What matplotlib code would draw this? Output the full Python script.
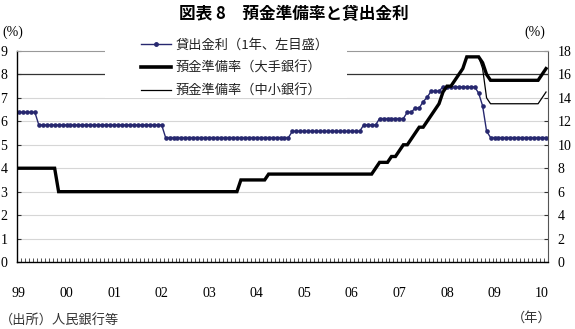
import numpy as np
import matplotlib
matplotlib.use("Agg")
import matplotlib.pyplot as plt
from matplotlib.lines import Line2D
from matplotlib.patches import Rectangle
from matplotlib.ticker import FixedLocator

# ---- data (monthly, Jan 1999 - Feb 2010) ----
lending_rate = (
    [6.39, 6.39, 6.39, 6.39, 6.39, 5.85, 5.85, 5.85, 5.85, 5.85, 5.85, 5.85] +  # 1999
    [5.85, 5.85, 5.85, 5.85, 5.85, 5.85, 5.85, 5.85, 5.85, 5.85, 5.85, 5.85] +  # 2000
    [5.85, 5.85, 5.85, 5.85, 5.85, 5.85, 5.85, 5.85, 5.85, 5.85, 5.85, 5.85] +  # 2001
    [5.85, 5.31, 5.31, 5.31, 5.31, 5.31, 5.31, 5.31, 5.31, 5.31, 5.31, 5.31] +  # 2002
    [5.31, 5.31, 5.31, 5.31, 5.31, 5.31, 5.31, 5.31, 5.31, 5.31, 5.31, 5.31] +  # 2003
    [5.31, 5.31, 5.31, 5.31, 5.31, 5.31, 5.31, 5.31, 5.31, 5.58, 5.58, 5.58] +  # 2004
    [5.58, 5.58, 5.58, 5.58, 5.58, 5.58, 5.58, 5.58, 5.58, 5.58, 5.58, 5.58] +  # 2005
    [5.58, 5.58, 5.58, 5.85, 5.85, 5.85, 5.85, 6.12, 6.12, 6.12, 6.12, 6.12] +  # 2006
    [6.12, 6.12, 6.39, 6.39, 6.57, 6.57, 6.84, 7.02, 7.29, 7.29, 7.29, 7.47] +  # 2007
    [7.47, 7.47, 7.47, 7.47, 7.47, 7.47, 7.47, 7.47, 7.20, 6.66, 5.58, 5.31] +  # 2008
    [5.31, 5.31, 5.31, 5.31, 5.31, 5.31, 5.31, 5.31, 5.31, 5.31, 5.31, 5.31] +  # 2009
    [5.31, 5.31]                                                                 # 2010
)

rrr_large = (
    [8.0, 8.0, 8.0, 8.0, 8.0, 8.0, 8.0, 8.0, 8.0, 8.0, 6.0, 6.0] +  # 1999
    [6.0, 6.0, 6.0, 6.0, 6.0, 6.0, 6.0, 6.0, 6.0, 6.0, 6.0, 6.0] +  # 2000
    [6.0, 6.0, 6.0, 6.0, 6.0, 6.0, 6.0, 6.0, 6.0, 6.0, 6.0, 6.0] +  # 2001
    [6.0, 6.0, 6.0, 6.0, 6.0, 6.0, 6.0, 6.0, 6.0, 6.0, 6.0, 6.0] +  # 2002
    [6.0, 6.0, 6.0, 6.0, 6.0, 6.0, 6.0, 6.0, 7.0, 7.0, 7.0, 7.0] +  # 2003
    [7.0, 7.0, 7.0, 7.5, 7.5, 7.5, 7.5, 7.5, 7.5, 7.5, 7.5, 7.5] +  # 2004
    [7.5, 7.5, 7.5, 7.5, 7.5, 7.5, 7.5, 7.5, 7.5, 7.5, 7.5, 7.5] +  # 2005
    [7.5, 7.5, 7.5, 7.5, 7.5, 7.5, 8.0, 8.5, 8.5, 8.5, 9.0, 9.0] +  # 2006
    [9.5, 10.0, 10.0, 10.5, 11.0, 11.5, 11.5, 12.0, 12.5, 13.0, 13.5, 14.5] +  # 2007
    [15.0, 15.0, 15.5, 16.0, 16.5, 17.5, 17.5, 17.5, 17.5, 17.0, 16.0, 15.5] +  # 2008
    [15.5, 15.5, 15.5, 15.5, 15.5, 15.5, 15.5, 15.5, 15.5, 15.5, 15.5, 15.5] +  # 2009
    [16.0, 16.5]                                                                 # 2010
)

rrr_small = (
    [8.0, 8.0, 8.0, 8.0, 8.0, 8.0, 8.0, 8.0, 8.0, 8.0, 6.0, 6.0] +  # 1999
    [6.0, 6.0, 6.0, 6.0, 6.0, 6.0, 6.0, 6.0, 6.0, 6.0, 6.0, 6.0] +  # 2000
    [6.0, 6.0, 6.0, 6.0, 6.0, 6.0, 6.0, 6.0, 6.0, 6.0, 6.0, 6.0] +  # 2001
    [6.0, 6.0, 6.0, 6.0, 6.0, 6.0, 6.0, 6.0, 6.0, 6.0, 6.0, 6.0] +  # 2002
    [6.0, 6.0, 6.0, 6.0, 6.0, 6.0, 6.0, 6.0, 7.0, 7.0, 7.0, 7.0] +  # 2003
    [7.0, 7.0, 7.0, 7.5, 7.5, 7.5, 7.5, 7.5, 7.5, 7.5, 7.5, 7.5] +  # 2004
    [7.5, 7.5, 7.5, 7.5, 7.5, 7.5, 7.5, 7.5, 7.5, 7.5, 7.5, 7.5] +  # 2005
    [7.5, 7.5, 7.5, 7.5, 7.5, 7.5, 8.0, 8.5, 8.5, 8.5, 9.0, 9.0] +  # 2006
    [9.5, 10.0, 10.0, 10.5, 11.0, 11.5, 11.5, 12.0, 12.5, 13.0, 13.5, 14.5] +  # 2007
    [15.0, 15.0, 15.5, 16.0, 16.5, 17.5, 17.5, 17.5, 17.5, 16.5, 14.0, 13.5] +  # 2008
    [13.5, 13.5, 13.5, 13.5, 13.5, 13.5, 13.5, 13.5, 13.5, 13.5, 13.5, 13.5] +  # 2009
    [14.0, 14.5]                                                                 # 2010
)

year_labels = ["99", "00", "01", "02", "03", "04", "05", "06", "07", "08", "09", "10"]
left_ticks = [0, 1, 2, 3, 4, 5, 6, 7, 8, 9]
right_ticks = [0, 2, 4, 6, 8, 10, 12, 14, 16, 18]
legend_labels = ["貸出金利（1年、左目盛）", "預金準備率（大手銀行）", "預金準備率（中小銀行）"]

# ---- figure ----
W, H = 575, 329
fig = plt.figure(figsize=(W / 100, H / 100), dpi=100)
fig.patch.set_facecolor("white")
ax = fig.add_axes([17 / W, 1 - 262 / H, 531 / W, 211 / H])
ax2 = ax.twinx()

num_font = "Liberation Serif"
jp_font = ["Noto Sans CJK JP", "DejaVu Sans"]
navy = "#27286f"

n = len(lending_rate)
x = np.arange(n)

# grid
for g in left_ticks[1:8]:
    ax.axhline(g, color="#d6d6d6", lw=0.8, zorder=0)
ax.axhline(8, color="#333333", lw=0.9, zorder=0)

ax.plot(x, lending_rate, color=navy, lw=1.0, marker="o", ms=2.3, mec=navy, mfc=navy, zorder=3)
ax2.plot(x, rrr_small, color="black", lw=0.9, zorder=2)
ax2.plot(x, rrr_large, color="black", lw=2.4, zorder=3, solid_joinstyle="miter")

ax.set_xlim(-0.5, n - 0.5)
ax.set_ylim(0, 9)
ax2.set_ylim(0, 18)

ax.set_yticks(left_ticks)
ax.set_yticklabels([str(v) for v in left_ticks], family=num_font, fontsize=10)
ax2.set_yticks(right_ticks)
ax2.set_yticklabels([str(v) for v in right_ticks], family=num_font, fontsize=10)
ax.tick_params(axis="y", direction="in", length=3, pad=7, color="#333")
ax2.tick_params(axis="y", direction="in", length=3, pad=7, color="#333")

ax.set_xticks(list(range(0, n, 12)))
ax.set_xticklabels(year_labels, family=num_font, fontsize=10)
ax.tick_params(axis="x", which="major", length=0, pad=18)
ax.xaxis.set_minor_locator(FixedLocator(np.arange(-0.5, n, 1.0)))
ax.tick_params(axis="x", which="minor", direction="in", length=3, width=0.6, color="#333")

for sp in ax.spines.values():
    sp.set_visible(False)
ax2.spines["left"].set_color("black")
ax2.spines["left"].set_linewidth(1.0)
ax2.spines["bottom"].set_color("black")
ax2.spines["bottom"].set_linewidth(1.0)
ax2.spines["right"].set_color("#555555")
ax2.spines["right"].set_linewidth(0.8)
ax2.spines["top"].set_color("#999999")
ax2.spines["top"].set_linewidth(0.8)

# legend with white backdrop
fig.add_artist(Rectangle((105 / W, 1 - 98 / H), 242 / W, 63 / H, transform=fig.transFigure,
                         facecolor="white", edgecolor="none", zorder=5))
handles = [
    Line2D([], [], color=navy, lw=1.0, marker="o", ms=2.5, mec=navy, mfc=navy),
    Line2D([], [], color="black", lw=2.6),
    Line2D([], [], color="black", lw=0.9),
]
leg = fig.legend(handles, legend_labels, loc="upper left", bbox_to_anchor=(141 / W, 1 - 39 / H),
                 frameon=False, borderpad=0, borderaxespad=0, handlelength=2.3, handletextpad=0.3,
                 labelspacing=0.75, numpoints=1, prop={"family": jp_font, "size": 9.5})
leg.set_zorder(6)
for t in leg.get_texts():
    t.set_color("#222222")

# texts
fig.text(294 / W, 1 - 14 / H, "図表 8　預金準備率と貸出金利", ha="center", va="center",
         fontsize=12, fontweight="bold", family=jp_font)
fig.text(13 / W, 1 - 32 / H, "(%)", ha="center", va="center", fontsize=10, family=num_font)
fig.text(535 / W, 1 - 32 / H, "(%)", ha="center", va="center", fontsize=10, family=num_font)
fig.text(532 / W, 1 - 318 / H, "（年）", ha="center", va="center", fontsize=9.5, family=jp_font, color="#333")
fig.text(0 / W, 1 - 321 / H, "（出所）人民銀行等", ha="left", va="center", fontsize=9.5, family=jp_font, color="#333")

fig.savefig("out.png", dpi=100)
